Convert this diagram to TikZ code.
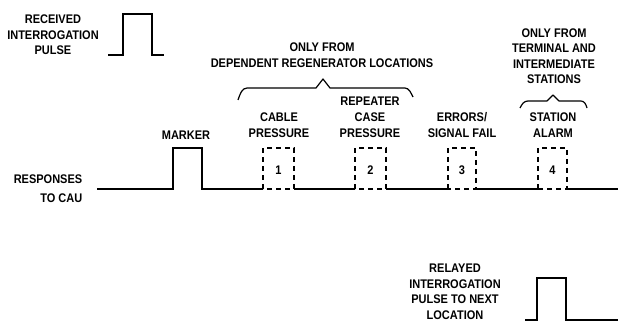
\documentclass[tikz,border=0pt]{standalone}
\usepackage{fontspec}
\setmainfont{Liberation Sans}[FakeStretch=0.88]
\begin{document}
\begin{tikzpicture}[x=1pt,y=1pt,
  lbl/.style={inner sep=0pt,align=center,font=\bfseries\fontsize{12.5}{16}\selectfont},
  num/.style={inner sep=0pt,font=\bfseries\fontsize{12.5}{14}\selectfont},
  sig/.style={line width=1.3pt},
  dbox/.style={line width=1.3pt,dash pattern=on 5pt off 4pt},
  brc/.style={line width=1.2pt,line join=round}]
\useasboundingbox (0,0) rectangle (618,324);
% image y -> 324 - y
% received interrogation pulse
\node[lbl,font=\bfseries\fontsize{12.5}{15.5}\selectfont] (rx) at (53,289) {RECEIVED\\INTERROGATION\\PULSE};
\coordinate (r0) at (108,269);
\coordinate (r1) at (164,269);
\draw[sig] (r0) -- (123,269) -- (123,310) -- (152,310) -- (152,269) -- (r1);
% responses
\node[lbl,align=right] (resp) at (48,135.5) {RESPONSES\\[3pt]TO CAU\hspace{5pt}};
\coordinate (s0) at (97,135);
\coordinate (s1) at (618,135);
\draw[sig] (s0) -- (173,135) -- (173,176) -- (202,176) -- (202,135) -- (263,135)
  (294,135) -- (355,135) (386,135) -- (448,135) (476,135) -- (538,135) (567,135) -- (s1);
\draw[dbox] (263,135) rectangle (294,176);
\draw[dbox] (355,135) rectangle (386,176);
\draw[dbox] (448,135) rectangle (476,176);
\draw[dbox] (538,135) rectangle (567,176);
\node[num] (n1) at (278.5,154) {1};
\node[num] (n2) at (370.5,154) {2};
\node[num] (n3) at (462,154) {3};
\node[num] (n4) at (552.5,154) {4};
% labels
\node[lbl] (mk) at (186,189) {MARKER};
\node[lbl] (cp) at (279,198.5) {CABLE\\PRESSURE};
\node[lbl] (rcp) at (370,206.5) {REPEATER\\CASE\\PRESSURE};
\node[lbl] (esf) at (462,198.5) {ERRORS/\\SIGNAL FAIL};
\node[lbl] (sa) at (553,198.5) {STATION\\ALARM};
\node[lbl] (dep) at (322,268.5) {ONLY FROM\\DEPENDENT REGENERATOR LOCATIONS};
\node[lbl,font=\bfseries\fontsize{12.5}{15.5}\selectfont] (term) at (554,268) {ONLY FROM\\TERMINAL AND\\INTERMEDIATE\\STATIONS};
% braces
\draw[brc] (238,224) .. controls (240,230) and (242,236) .. (247,236) -- (316,236) -- (323,245) -- (330,236) -- (405,236) .. controls (409,236) and (411,231) .. (413,227);
\draw[brc] (520,216) .. controls (522,220) and (524,223) .. (528,223) -- (547,223) -- (553,229) -- (559,223) -- (581,223) .. controls (584,223) and (586,220) .. (587,216);
% relayed pulse
\node[lbl,font=\bfseries\fontsize{12.5}{15.5}\selectfont] (rel) at (455,32) {RELAYED\\INTERROGATION\\PULSE TO NEXT\\LOCATION};
\coordinate (p0) at (525,4);
\coordinate (p1) at (618,4);
\draw[sig] (p0) -- (537,4) -- (537,46) -- (566,46) -- (566,4) -- (p1);
\end{tikzpicture}
\end{document}
